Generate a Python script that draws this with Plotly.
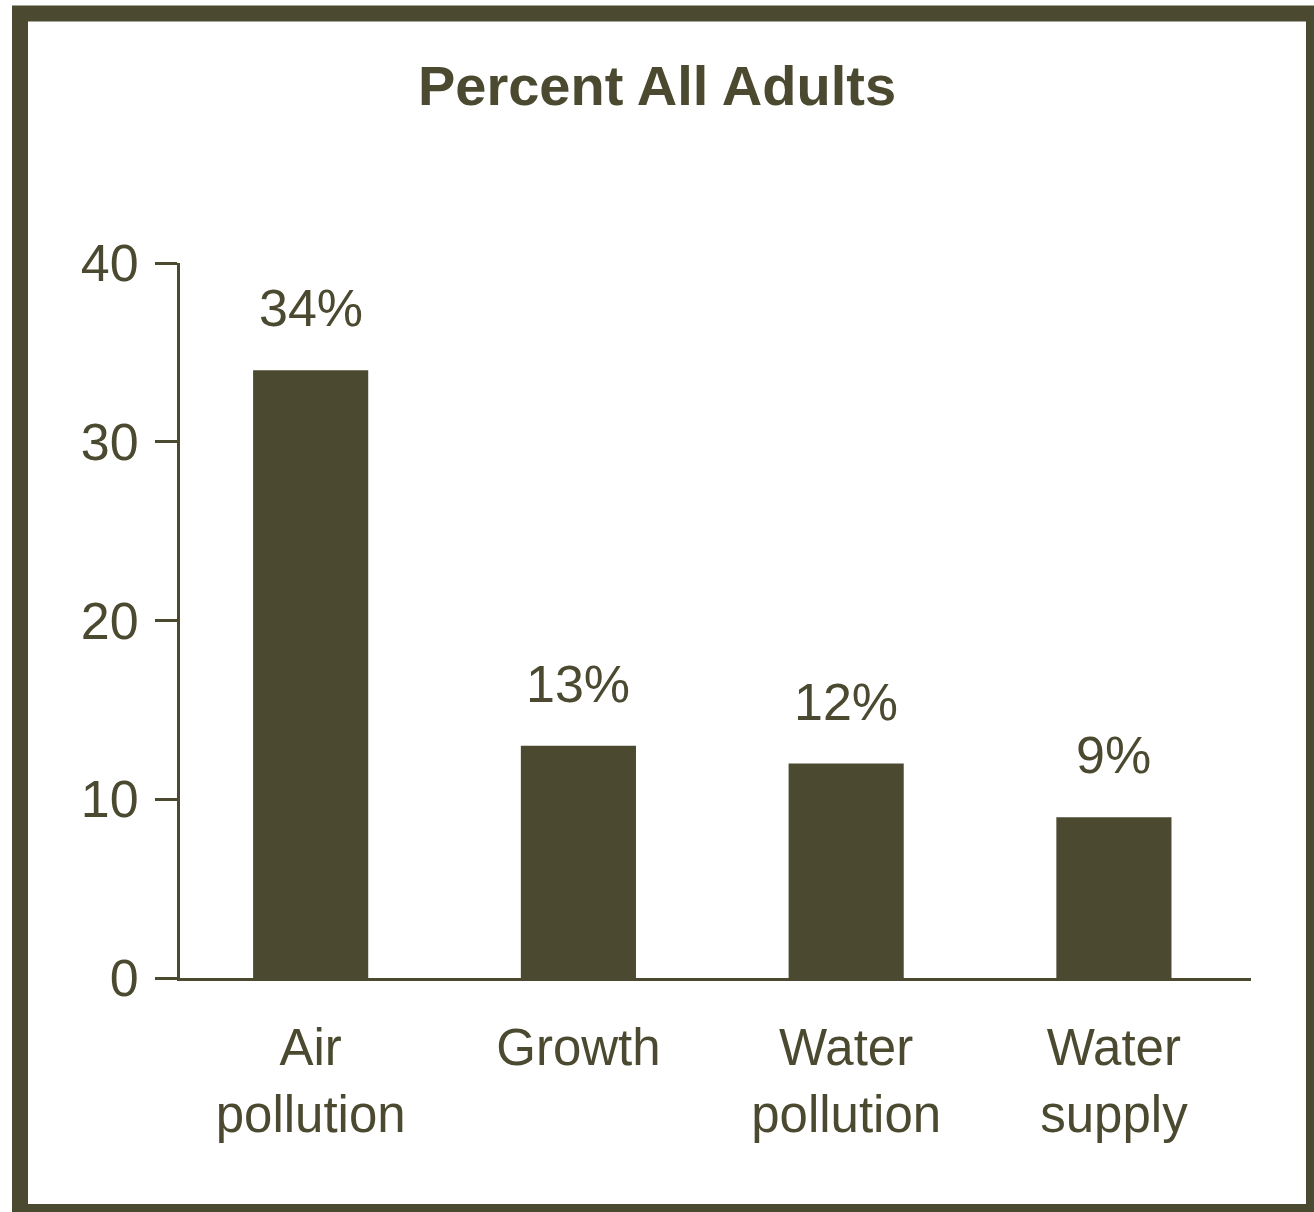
import plotly.graph_objects as go

categories = ["Air<br>pollution", "Growth", "Water<br>pollution", "Water<br>supply"]
values = [34, 13, 12, 9]
value_labels = ["34%", "13%", "12%", "9%"]
y_ticks = [0, 10, 20, 30, 40]

COLOR = "#4b4a30"
FONT = "Liberation Sans, Arial, sans-serif"

W, H = 1314, 1212
L, R, T, B = 180, 1251, 263, 978

fig = go.Figure()
fig.add_trace(go.Bar(
    x=categories, y=values, marker=dict(color=COLOR, line=dict(width=0)),
    width=0.43, hoverinfo="skip",
))

for c, v, t in zip(categories, values, value_labels):
    fig.add_annotation(x=c, y=v, text=t, showarrow=False, yanchor="bottom",
                       yshift=31, font=dict(family=FONT, size=52, color=COLOR))

def px(x):
    return (x - L) / (R - L)

def py(y):
    return (B - y) / (B - T)

# outer frame
fig.add_shape(type="rect", xref="paper", yref="paper",
              x0=px(20), x1=px(1314), y0=py(13.5), y1=py(1212),
              line=dict(color=COLOR, width=16), fillcolor="rgba(0,0,0,0)")

fig.update_layout(
    width=W, height=H,
    margin=dict(l=L, r=W - R, t=T, b=H - B, pad=0),
    paper_bgcolor="white", plot_bgcolor="white",
    showlegend=False,
    title=dict(text="<b>Percent All Adults</b>", x=0.5, xanchor="center",
               y=1 - 85 / H, yanchor="middle",
               font=dict(family=FONT, size=56, color=COLOR)),
    font=dict(family=FONT, color=COLOR),
)
fig.update_xaxes(
    showline=True, linecolor=COLOR, linewidth=3, ticks="",
    showgrid=False, zeroline=False, range=[-0.488, 3.512],
    tickfont=dict(family=FONT, size=51, color=COLOR),
    ticklabelstandoff=23,
)
fig.update_yaxes(
    range=[0, 40], tickvals=y_ticks, showline=True, linecolor=COLOR, linewidth=3,
    ticks="outside", ticklen=22, tickwidth=3, tickcolor=COLOR,
    showgrid=False, zeroline=False,
    tickfont=dict(family=FONT, size=52, color=COLOR),
    ticklabelstandoff=6,
)

fig.write_html("out.html")
